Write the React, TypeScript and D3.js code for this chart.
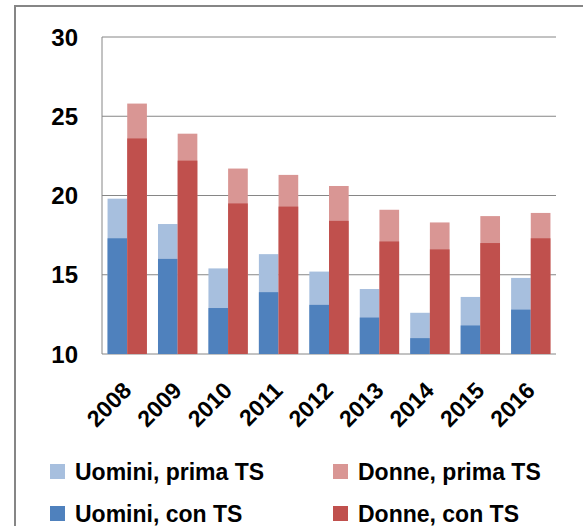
import React from 'react';
import * as d3 from 'd3';

// anni e valori (totale "prima TS" e parte "con TS")
const anni = ['2008', '2009', '2010', '2011', '2012', '2013', '2014', '2015', '2016'];
const uominiPrima = [19.8, 18.2, 15.4, 16.3, 15.2, 14.1, 12.6, 13.6, 14.8];
const uominiCon = [17.3, 16.0, 12.9, 13.9, 13.1, 12.3, 11.0, 11.8, 12.8];
const donnePrima = [25.8, 23.9, 21.7, 21.3, 20.6, 19.1, 18.3, 18.7, 18.9];
const donneCon = [23.6, 22.2, 19.5, 19.3, 18.4, 17.1, 16.6, 17.0, 17.3];
const yTicks = [10, 15, 20, 25, 30];

const W = 583;
const H = 526;
const margin = { top: 37, right: 27, bottom: 172, left: 102 };
const font = "'Liberation Sans', Arial, sans-serif";

const colori = {
  uominiPrima: '#A7BFDE',
  uominiCon: '#4F81BD',
  donnePrima: '#D99694',
  donneCon: '#C0504D',
};

export default function App() {
  const innerW = W - margin.left - margin.right;
  const innerH = H - margin.top - margin.bottom;

  const x = d3.scaleBand().domain(anni).range([0, innerW]).paddingInner(0.22).paddingOuter(0.11);
  const sub = d3.scaleBand().domain(['u', 'd']).range([0, x.bandwidth()]);
  const y = d3.scaleLinear().domain([10, 30]).range([innerH, 0]);

  const serie = [
    { key: 'uominiPrima', g: 'u', vals: uominiPrima },
    { key: 'uominiCon', g: 'u', vals: uominiCon },
    { key: 'donnePrima', g: 'd', vals: donnePrima },
    { key: 'donneCon', g: 'd', vals: donneCon },
  ];

  const legenda = [
    { label: 'Uomini, prima TS', c: colori.uominiPrima, x: 50, y: 464 },
    { label: 'Donne, prima TS', c: colori.donnePrima, x: 333, y: 464 },
    { label: 'Uomini, con TS', c: colori.uominiCon, x: 50, y: 506 },
    { label: 'Donne, con TS', c: colori.donneCon, x: 333, y: 506 },
  ];

  return (
    <svg width={W} height={H} style={{ position: 'absolute', left: 0, top: 0, background: '#fff' }}>
      {/* cornice */}
      <path d={`M15,${H} L15,6 L${W},6`} fill="none" stroke="#868686" strokeWidth={2} />
      <g transform={`translate(${margin.left},${margin.top})`}>
        {yTicks.map((t) => (
          <g key={t}>
            <line x1={0} x2={innerW} y1={y(t)} y2={y(t)} stroke="#868686" strokeWidth={1} />
            <text
              x={-24}
              y={y(t)}
              dy="0.36em"
              textAnchor="end"
              fontFamily={font}
              fontWeight="bold"
              fontSize={24}
              fill="#000"
            >
              {t}
            </text>
          </g>
        ))}
        <line x1={0} x2={0} y1={0} y2={innerH} stroke="#868686" />
        {serie.map((s) =>
          s.vals.map((v, i) => (
            <rect
              key={s.key + i}
              x={(x(anni[i]) ?? 0) + (sub(s.g) ?? 0)}
              y={y(v)}
              width={sub.bandwidth()}
              height={y(10) - y(v)}
              fill={colori[s.key as keyof typeof colori]}
            />
          ))
        )}
        {anni.map((a) => (
          <text
            key={a}
            transform={`translate(${(x(a) ?? 0) + x.bandwidth() / 2 + 5.5},${innerH + 38}) rotate(-45)`}
            textAnchor="end"
            fontFamily={font}
            fontWeight="bold"
            fontSize={23}
            fill="#000"
          >
            {a}
          </text>
        ))}
      </g>
      {legenda.map((l) => (
        <g key={l.label}>
          <rect x={l.x} y={l.y} width={15} height={15} fill={l.c} />
          <text x={l.x + 25} y={l.y + 15.5} fontFamily={font} fontWeight="bold" fontSize={23} fill="#000">
            {l.label}
          </text>
        </g>
      ))}
    </svg>
  );
}
